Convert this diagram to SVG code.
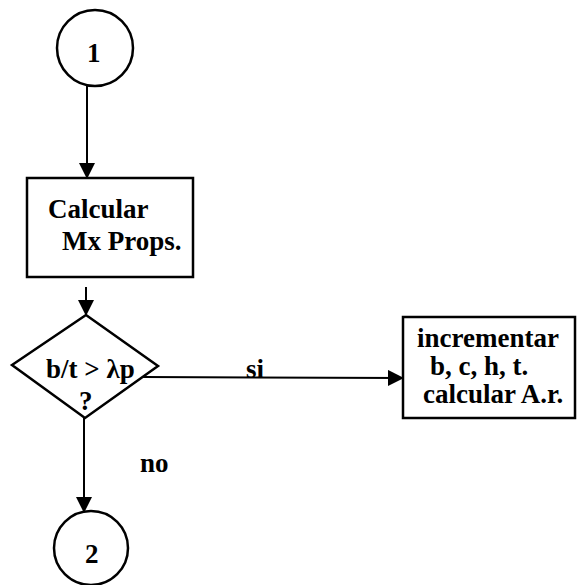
<svg xmlns="http://www.w3.org/2000/svg" width="578" height="585" viewBox="0 0 578 585">
<defs>
<marker id="arr" markerWidth="16" markerHeight="16" refX="15" refY="8" orient="auto" markerUnits="userSpaceOnUse">
<path d="M0,0 L16,8 L0,16 Z" fill="#000"/>
</marker>
<style>
.shape{fill:none;stroke:#000;stroke-width:2.5}
.edge{fill:none;stroke:#000;stroke-width:2}
text{font-family:"Liberation Serif","Times New Roman",serif;font-weight:bold;font-size:27px;fill:#000}
</style>
</defs>
<rect width="578" height="585" fill="#fff"/>
<g id="c1">
<circle class="shape" cx="95" cy="48" r="38"/>
<text x="87" y="62">1</text>
</g>
<g id="calc">
<rect class="shape" x="27" y="178" width="166" height="99"/>
<text x="48" y="218">Calcular</text>
<text x="62" y="250">Mx Props.</text>
</g>
<g id="dec">
<polygon class="shape" points="86,315 158,366 85,418 12,365"/>
<text x="46" y="378">b/t &gt; λp</text>
<text x="79" y="410">?</text>
</g>
<g id="inc">
<rect class="shape" x="403" y="317" width="172" height="101"/>
<text x="417" y="347">incrementar</text>
<text x="430" y="375">b, c, h, t.</text>
<text x="423" y="403">calcular A.r.</text>
</g>
<g id="c2">
<circle class="shape" cx="91" cy="548" r="37"/>
<text x="85" y="563">2</text>
</g>
<g id="edges">
<line class="edge" x1="87" y1="86" x2="87" y2="178" marker-end="url(#arr)"/>
<line class="edge" x1="86" y1="287" x2="86" y2="315" marker-end="url(#arr)"/>
<line class="edge" x1="143" y1="377" x2="403" y2="378" marker-end="url(#arr)"/>
<line class="edge" x1="84" y1="418" x2="84" y2="512" marker-end="url(#arr)"/>
<text x="246" y="378">si</text>
<text x="140" y="472">no</text>
</g>
</svg>
